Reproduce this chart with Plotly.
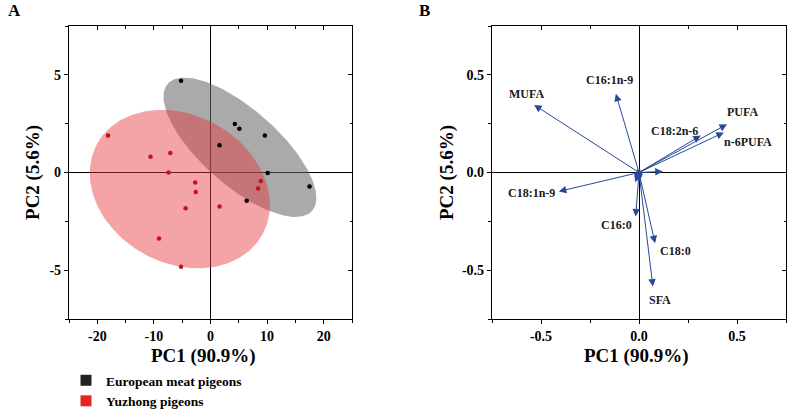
"""
PCA des acides gras : scores (A) et loadings (B).
"""
import numpy as np
import plotly.graph_objects as go

# --- scores (panneau A) ---
euro_pc1 = [-5.2, 4.3, 5.1, 9.6, 1.6, 10.1, 17.5, 6.4]
euro_pc2 = [4.7, 2.48, 2.24, 1.9, 1.4, -0.03, -0.72, -1.45]
yuz_pc1 = [-18.1, -10.6, -7.1, -7.4, -2.7, -2.6, -4.4, 1.6, 8.9, 8.4, -9.1, -5.2]
yuz_pc2 = [1.9, 0.8, 1.0, 0.0, -0.51, -1.0, -1.83, -1.74, -0.43, -0.82, -3.38, -4.82]

# ellipses de confiance : centre + deux demi-axes conjugues (unites des axes)
euro_ell_center = [5.2, 1.29]
euro_ell_u = [12.76, -3.25]
euro_ell_v = [4.42, 1.47]
yuz_ell_center = [-5.42, -0.85]
yuz_ell_u = [14.63, -2.31]
yuz_ell_v = [6.25, 3.33]

# --- loadings (panneau B) ---
load_names = ["MUFA", "C16:1n-9", "C18:1n-9", "C16:0", "C18:0", "SFA",
              "C18:2n-6", "PUFA", "n-6PUFA", "", "", "", "", "", ""]
load_pc1 = [-0.535, -0.118, -0.409, -0.017, 0.082, 0.071,
            0.315, 0.449, 0.433, 0.121, -0.02, -0.01, 0.005, -0.025, 0.004]
load_pc2 = [0.346, 0.403, -0.097, -0.225, -0.362, -0.584,
            0.189, 0.247, 0.205, 0.005, -0.05, -0.04, -0.045, -0.02, 0.022]

# ticks
a_x_ticks = [-20, -10, 0, 10, 20]
a_x_labels = ["-20", "-10", "0", "10", "20"]
a_y_ticks = [-5, 0, 5]
a_y_labels = ["-5", "0", "5"]
b_ticks = [-0.5, 0.0, 0.5]
b_labels = ["-0.5", "0.0", "0.5"]

PC1_TITLE = "PC1 (90.9%)"
PC2_TITLE = "PC2 (5.6%)"

# placement des etiquettes de B : (xanchor, yanchor, xshift, yshift)
LABEL_POS = {
    "MUFA": ("center", "bottom", -8, 2),
    "C16:1n-9": ("center", "bottom", -6, 5),
    "C18:1n-9": ("right", "middle", -2, -2),
    "C16:0": ("right", "top", -2, 0),
    "C18:0": ("left", "top", 3, 1),
    "SFA": ("center", "top", 7, -4),
    "C18:2n-6": ("right", "middle", -1, 5),
    "PUFA": ("left", "bottom", -2, 3),
    "n-6PUFA": ("left", "top", -2, -1),
}

W, H = 789, 411
FONT = "Liberation Serif"
ARROW = "#27499a"


def px_x(p):
    """pixels -> fraction du papier (horizontal)"""
    return p / W


def px_y(p):
    """pixels depuis le haut -> fraction du papier (vertical)"""
    return 1 - p / H


def ellipse(center, u, v, n=240):
    """contour d'une ellipse a partir de deux demi-axes conjugues"""
    t = np.linspace(0, 2 * np.pi, n)
    xs = center[0] + u[0] * np.cos(t) + v[0] * np.sin(t)
    ys = center[1] + u[1] * np.cos(t) + v[1] * np.sin(t)
    return xs, ys


def main_axis(dom, rng, tickvals, ticktext, minor_dtick, anchor, title=None, standoff=0):
    axis = dict(
        domain=dom, range=rng, anchor=anchor, automargin=False,
        showline=True, linecolor="black", linewidth=1.3, mirror=True,
        ticks="outside", ticklen=4, tickwidth=1.2, tickcolor="black",
        tickvals=tickvals, ticktext=ticktext,
        minor=dict(ticks="outside", ticklen=2.5, tickwidth=1, dtick=minor_dtick,
                   tick0=0, tickcolor="black"),
        tickfont=dict(size=14, color="black"),
        showgrid=False, zeroline=True, zerolinecolor="black", zerolinewidth=1.3,
    )
    if title:
        axis["title"] = dict(text=title, font=dict(size=19, color="black"),
                             standoff=standoff)
    return axis


def mirror_axis(over, anchor, side, rng, tickvals, minor_dtick):
    return dict(
        overlaying=over, anchor=anchor, side=side, range=rng, automargin=False,
        showline=False, showgrid=False, zeroline=False, showticklabels=False,
        ticks="inside", ticklen=4, tickwidth=1.2, tickcolor="black",
        tickvals=tickvals,
        minor=dict(ticks="inside", ticklen=2.5, tickwidth=1, dtick=minor_dtick,
                   tick0=0, tickcolor="black"),
    )


def main():
    fig = go.Figure()

    # ellipses
    ex, ey = ellipse(euro_ell_center, euro_ell_u, euro_ell_v)
    fig.add_trace(go.Scatter(x=ex, y=ey, mode="lines", fill="toself",
                             fillcolor="rgba(100,100,100,0.55)", line=dict(width=0),
                             showlegend=False, hoverinfo="skip"))
    rx, ry = ellipse(yuz_ell_center, yuz_ell_u, yuz_ell_v)
    fig.add_trace(go.Scatter(x=rx, y=ry, mode="lines", fill="toself",
                             fillcolor="rgba(230,50,60,0.45)", line=dict(width=0),
                             showlegend=False, hoverinfo="skip"))

    # points
    fig.add_trace(go.Scatter(x=euro_pc1, y=euro_pc2, mode="markers",
                             marker=dict(color="black", size=4.5), showlegend=False))
    fig.add_trace(go.Scatter(x=yuz_pc1, y=yuz_pc2, mode="markers",
                             marker=dict(color="#c8101c", size=4.5), showlegend=False))

    # legende
    fig.add_trace(go.Scatter(x=[None], y=[None], mode="markers", name="European meat pigeons",
                             marker=dict(color="#222222", size=11, symbol="square")))
    fig.add_trace(go.Scatter(x=[None], y=[None], mode="markers", name="Yuzhong pigeons",
                             marker=dict(color="#e52420", size=11, symbol="square")))

    # traces invisibles pour les axes miroirs
    fig.add_trace(go.Scatter(x=[0], y=[0], xaxis="x3", yaxis="y3", mode="markers",
                             marker=dict(opacity=0), showlegend=False, hoverinfo="skip"))
    fig.add_trace(go.Scatter(x=[0], y=[0], xaxis="x2", yaxis="y2", mode="markers",
                             marker=dict(opacity=0), showlegend=False, hoverinfo="skip"))
    fig.add_trace(go.Scatter(x=[0], y=[0], xaxis="x4", yaxis="y4", mode="markers",
                             marker=dict(opacity=0), showlegend=False, hoverinfo="skip"))

    annotations = []
    for name, lx, ly in zip(load_names, load_pc1, load_pc2):
        annotations.append(dict(
            x=lx, y=ly, ax=0, ay=0, xref="x2", yref="y2", axref="x2", ayref="y2",
            showarrow=True, arrowhead=2, arrowsize=1.5, arrowwidth=1,
            arrowcolor=ARROW, text=""))
        if name:
            xa, ya, xs, ys = LABEL_POS[name]
            annotations.append(dict(
                x=lx, y=ly, xref="x2", yref="y2", text=name, showarrow=False,
                xanchor=xa, yanchor=ya, xshift=xs, yshift=ys,
                font=dict(size=12, color="#1a1a1a")))

    # titres PC1 places a la main
    for xc in (203, 636):
        annotations.append(dict(x=px_x(xc), y=px_y(356), xref="paper", yref="paper",
                                text=PC1_TITLE, showarrow=False,
                                xanchor="center", yanchor="middle",
                                font=dict(size=19, color="black")))

    annotations.append(dict(x=px_x(14), y=px_y(11), xref="paper", yref="paper",
                            xanchor="center", yanchor="middle",
                            text="A", showarrow=False, font=dict(size=17, color="black")))
    annotations.append(dict(x=px_x(424), y=px_y(11), xref="paper", yref="paper",
                            xanchor="center", yanchor="middle",
                            text="B", showarrow=False, font=dict(size=17, color="black")))

    dom_y = [px_y(319), px_y(26)]
    dom_ax = [px_x(69), px_x(352)]
    dom_bx = [px_x(492), px_x(786)]

    fig.update_layout(
        width=W, height=H,
        margin=dict(l=0, r=0, t=0, b=0, autoexpand=False),
        paper_bgcolor="white", plot_bgcolor="white",
        font=dict(family=FONT, weight="bold", color="black"),
        xaxis=main_axis(dom_ax, [-25, 25], a_x_ticks, a_x_labels, 5, "y"),
        yaxis=main_axis(dom_y, [-7.5, 7.5], a_y_ticks, a_y_labels, 2.5, "x",
                        PC2_TITLE, 4),
        xaxis2=main_axis(dom_bx, [-0.75, 0.75], b_ticks, b_labels, 0.25, "y2"),
        yaxis2=main_axis(dom_y, [-0.75, 0.75], b_ticks, b_labels, 0.25, "x2",
                         PC2_TITLE, 3),
        xaxis3=mirror_axis("x", "y", "top", [-25, 25], a_x_ticks, 5),
        yaxis3=mirror_axis("y", "x", "right", [-7.5, 7.5], a_y_ticks, 2.5),
        xaxis4=mirror_axis("x2", "y2", "top", [-0.75, 0.75], b_ticks, 0.25),
        yaxis4=mirror_axis("y2", "x2", "right", [-0.75, 0.75], b_ticks, 0.25),
        legend=dict(x=px_x(66), y=px_y(365), xanchor="left", yanchor="top",
                    font=dict(size=13.5, color="black"), bgcolor="rgba(0,0,0,0)",
                    tracegroupgap=0, itemwidth=30),
        annotations=annotations,
        showlegend=True,
    )
    # la page ajoute une marge de 8 px autour du graphique : on la retire
    fig.write_html("out.html", config={"displayModeBar": False},
                   post_script="document.body.style.margin='0';")


if __name__ == "__main__":
    main()
